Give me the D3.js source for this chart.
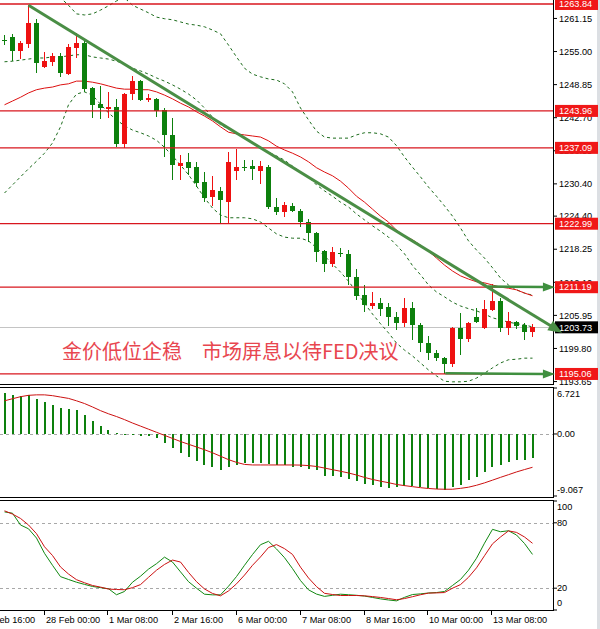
<!DOCTYPE html>
<html>
<head>
<meta charset="utf-8">
<script src="https://cdn.jsdelivr.net/npm/d3@7"></script>
<style>
  html, body { margin: 0; padding: 0; background: #fff; }
  svg { display: block; }
  .ax { font-family: "Liberation Sans", Arial, sans-serif; font-size: 9.2px; fill: #000; }
</style>
</head>
<body>
<svg id="chart" width="600" height="629"></svg>
<script>
// H4 candles, one per bar index 0..66
const openPrices = [1257.2,1257.7,1255.1,1256.4,1260.3,1252.1,1253.1,1254.2,1250.8,1255.7,
  1256.6,1248.2,1245.2,1244.3,1244.7,1237.8,1247.1,1249.5,1246.0,1246.2,
  1244.1,1239.5,1233.7,1234.5,1233.5,1230.7,1228.0,1229.1,1227.0,1232.8,
  1233.5,1233.7,1232.8,1233.5,1226.1,1225.2,1226.3,1225.4,1223.3,1221.3,
  1217.9,1215.5,1217.5,1217.4,1213.1,1209.7,1207.7,1208.3,1207.5,1205.6,
  1204.5,1207.3,1204.2,1200.8,1198.9,1198.0,1196.9,1203.6,1201.6,1205.6,
  1203.6,1206.9,1208.6,1203.6,1204.7,1204.2,1202.9];
const highPrices = [1258.1,1258.3,1257.0,1263.6,1261.1,1254.9,1254.7,1254.7,1256.4,1258.4,
  1257.1,1248.4,1248.6,1247.5,1246.2,1247.3,1250.5,1249.7,1247.1,1246.4,
  1244.5,1242.6,1235.8,1236.1,1234.5,1232.6,1231.9,1229.8,1236.3,1236.9,
  1234.8,1234.8,1234.7,1233.9,1227.8,1227.0,1226.8,1225.7,1223.9,1221.5,
  1218.1,1218.7,1218.5,1218.1,1214.6,1211.6,1210.3,1209.2,1208.3,1206.6,
  1209.2,1208.4,1204.5,1202.1,1199.5,1198.2,1203.8,1206.4,1204.7,1207.3,
  1208.8,1211.8,1209.2,1206.6,1204.9,1204.5,1204.4];
const lowPrices = [1256.2,1253.2,1253.6,1255.7,1251.0,1251.9,1252.3,1250.3,1250.6,1253.8,
  1247.5,1242.6,1242.5,1242.6,1237.2,1237.1,1246.0,1245.8,1245.6,1242.8,
  1235.4,1231.1,1231.1,1232.0,1229.8,1227.0,1226.3,1223.1,1222.9,1231.1,
  1232.8,1231.1,1230.4,1225.7,1224.6,1224.2,1225.2,1222.4,1219.6,1215.9,
  1214.0,1214.9,1216.8,1211.6,1208.8,1206.6,1207.1,1205.8,1204.0,1203.2,
  1203.8,1201.4,1199.1,1197.7,1197.5,1195.0,1196.4,1198.6,1201.0,1204.5,
  1203.4,1206.8,1202.9,1202.3,1203.4,1201.4,1201.9];
const closePrices = [1257.0,1255.1,1256.6,1260.3,1252.9,1253.2,1254.2,1251.0,1255.8,1256.6,
  1248.0,1245.1,1244.5,1244.7,1237.8,1247.1,1249.5,1246.0,1246.4,1243.9,
  1239.5,1233.9,1234.3,1233.4,1230.6,1227.8,1229.3,1227.4,1234.5,1233.5,
  1233.4,1233.2,1233.7,1226.1,1225.2,1226.5,1225.4,1223.3,1221.3,1217.7,
  1215.5,1217.7,1217.4,1213.1,1209.5,1207.9,1208.3,1207.1,1205.6,1204.5,
  1207.3,1204.2,1200.8,1198.9,1198.0,1196.9,1203.6,1201.6,1204.5,1204.7,
  1207.1,1208.6,1203.6,1204.9,1204.0,1202.9,1203.73];

// bollinger bands (dashed) and moving average (red)
const bbUpper = [1278.2,1275.7,1273.5,1271.1,1269.2,1267.4,1265.9,1265.0,1263.6,1262.0,
  1261.8,1262.0,1262.7,1263.5,1264.4,1265.0,1263.6,1262.9,1262.2,1261.4,
  1261.1,1260.9,1260.5,1260.1,1259.9,1259.6,1259.0,1258.3,1256.2,1254.0,
  1251.9,1250.8,1250.3,1249.9,1249.7,1249.0,1247.5,1244.5,1242.3,1240.2,
  1239.1,1238.9,1238.9,1238.9,1239.5,1239.9,1239.9,1239.7,1239.1,1237.5,
  1235.4,1233.5,1231.7,1229.8,1228.1,1226.3,1224.4,1222.2,1219.8,1218.1,
  1216.6,1214.8,1212.9,1211.6,1210.7,1210.1,1209.7];
const bbMiddle = [1253.1,1253.2,1253.4,1253.6,1253.8,1253.8,1254.0,1254.0,1254.2,1254.4,
  1254.4,1254.0,1253.8,1253.6,1253.2,1252.7,1251.9,1251.4,1250.8,1250.1,
  1249.5,1248.8,1248.0,1247.1,1246.0,1244.5,1242.8,1241.4,1240.6,1239.9,
  1238.9,1238.0,1237.1,1236.3,1235.6,1234.8,1233.7,1232.6,1231.7,1230.2,
  1229.1,1228.1,1227.0,1226.1,1224.8,1223.7,1222.6,1221.6,1220.5,1219.0,
  1217.4,1215.2,1213.5,1211.6,1210.3,1209.4,1208.4,1207.7,1207.2,1206.8,
  1206.2,1205.5,1205.1,1204.7,1204.4,1204.2,1203.8];
const bbLower = [1228.7,1230.2,1231.7,1233.2,1234.6,1236.1,1238.0,1241.0,1245.1,1247.1,
  1247.5,1246.9,1245.2,1243.6,1242.3,1241.2,1240.4,1239.9,1239.3,1238.5,
  1237.2,1235.6,1233.9,1232.1,1230.0,1227.8,1225.9,1224.6,1224.1,1224.1,
  1224.1,1223.9,1223.3,1222.2,1221.1,1220.5,1220.3,1220.3,1219.8,1218.5,
  1217.0,1215.5,1214.0,1212.3,1210.3,1208.2,1206.2,1204.4,1202.7,1200.8,
  1199.5,1198.4,1197.1,1195.8,1194.7,1193.7,1193.6,1193.6,1193.7,1194.3,
  1195.2,1196.2,1197.1,1197.7,1197.8,1198.0,1198.0];
const maLine = [1245.1,1245.8,1246.5,1247.3,1247.9,1248.2,1248.4,1248.8,1249.0,1249.5,
  1249.5,1249.3,1249.0,1248.6,1248.2,1248.0,1248.0,1247.9,1247.9,1247.5,
  1246.9,1246.2,1245.4,1244.7,1243.8,1243.0,1242.1,1241.0,1240.0,1239.7,
  1239.5,1239.3,1239.1,1238.4,1237.4,1236.7,1236.1,1235.4,1234.5,1233.4,
  1232.6,1231.9,1230.9,1229.6,1228.1,1227.0,1225.7,1224.4,1223.3,1221.8,
  1220.7,1220.0,1219.0,1217.9,1216.6,1215.3,1214.2,1213.3,1212.7,1212.2,
  1212.0,1211.6,1211.2,1211.0,1210.7,1210.1,1209.6];

// MACD panel
const macdHist = [6.04,5.70,5.56,5.70,5.12,4.63,4.24,3.76,3.61,3.51,
  2.78,1.95,1.17,0.58,0.10,-0.15,-0.2,-0.25,-0.35,-0.64,
  -1.37,-2.10,-2.73,-3.31,-3.90,-4.53,-4.87,-5.26,-4.87,-4.53,
  -4.29,-4.19,-4.19,-4.39,-4.53,-4.53,-4.78,-4.87,-5.16,-5.26,
  -6.09,-6.09,-6.24,-6.58,-6.87,-7.36,-7.46,-7.70,-7.94,-7.70,
  -7.60,-7.60,-7.80,-7.94,-8.09,-8.19,-7.80,-7.46,-6.73,-6.24,
  -5.51,-4.87,-4.53,-4.05,-3.80,-3.80,-3.55];
const macdSignal = [4.85,5.15,5.45,5.65,5.72,5.72,5.6,5.4,5.2,4.85,
  4.45,3.95,3.41,2.95,2.55,2.1,1.6,1.15,0.7,0.25,
  -0.2,-0.65,-1.1,-1.5,-1.9,-2.3,-2.75,-3.25,-3.75,-4.15,
  -4.45,-4.53,-4.53,-4.53,-4.53,-4.53,-4.53,-4.55,-4.62,-4.75,
  -4.98,-5.22,-5.45,-5.7,-6.0,-6.35,-6.65,-6.9,-7.12,-7.38,
  -7.55,-7.7,-7.85,-7.97,-8.05,-8.08,-8.08,-7.95,-7.78,-7.5,
  -7.15,-6.75,-6.34,-5.95,-5.55,-5.2,-4.87];

// stochastic panel
const stochK = [90,88.8,78,74.5,66,52,41,30.6,28,25.5,
  23.5,21.6,20.5,19.5,14,17,25.5,31,37.5,42.5,
  48.5,44,35,26,20,14.5,13.9,13.9,21.8,30.7,
  41,50.9,59.9,63,56,48,38,27,18.5,14.6,
  12.5,13.5,14.5,14,13.5,12.8,11.5,10.2,9.2,8.4,
  11.6,14.2,14.8,15.6,16,17,22.5,28,36.5,47.5,
  61.3,74,71.8,72.7,68.8,61,51];
const stochD = [91,88,84,78,70,58,50,39.5,33,27.8,
  25,22.5,21,19.2,18.8,18.6,20.5,23.3,30,36.5,
  41.8,45.8,44,34.5,26,19.3,15.2,13,17.5,24,
  32,41,48.7,57.3,60,56.3,51,39.3,29.4,21.5,
  15.3,14.2,13.3,13.3,13.3,13,12.3,11.5,10.5,9.4,
  10.5,12.2,14,15.5,15.7,16,20,23.3,30,38.7,
  49.8,60.7,67,72.6,71.2,67,61.2];

// axes
const priceTicks = ["1261.15","1255.00","1248.85","1242.70","1236.55","1230.40","1224.40","1218.25","1212.10","1205.95","1199.80","1193.65"];
const macdTicks = ["6.721","0.00","-9.067"];
const stochTicks = ["100","80","20","0"];
const timeLabels = ["24 Feb 16:00","28 Feb 00:00","1 Mar 08:00","2 Mar 16:00","6 Mar 00:00","7 Mar 08:00","8 Mar 16:00","10 Mar 00:00","13 Mar 08:00"];
const timeLabelBars = [-3, 5, 13, 21, 29, 37, 45, 53, 61];

// annotations
const levelPrices = [1263.84, 1243.96, 1237.09, 1222.99, 1211.19, 1195.06];
const lastPrice = 1203.73;
const trendLine = [[3, 1263.6], [69.7, 1202.7]];
const arrowLines = [
  [[60.4, 1211.3], [68.8, 1211.19]],
  [[55.1, 1195.2], [68.8, 1195.06]]
];
const headline = "金价低位企稳　市场屏息以待FED决议";

(function () {
  "use strict";

  const svg = d3.select("#chart");
  const plotRight = 553;
  const main = { top: 0, bottom: 384 };
  const macd = { top: 387, bottom: 497 };
  const stoch = { top: 500, bottom: 610 };

  const UP = "#ee1111";
  const DOWN = "#0d800d";
  const BAND = "#1c6b1c";

  const bars = d3.range(openPrices.length);
  const x = d3.scaleLinear().domain([0, 66]).range([4.5, 532.5]);
  const yMain = d3.scaleLinear().domain([1193.38, 1264.58]).range([383, 0]);
  const yMacd = d3.scaleLinear().domain([-9.067, 6.721]).range([496, 388]);
  const yStoch = d3.scaleLinear().domain([0, 100]).range([610, 501]);

  svg.append("rect").attr("width", 600).attr("height", 629).attr("fill", "#fff");
  svg.append("rect").attr("x", 597).attr("width", 3).attr("height", 629).attr("fill", "#dcdfe3");

  const defs = svg.append("defs");
  function panelGroup(id, p) {
    defs.append("clipPath").attr("id", id)
      .append("rect").attr("x", 0).attr("y", p.top).attr("width", plotRight).attr("height", p.bottom - p.top);
    return svg.append("g").attr("clip-path", `url(#${id})`);
  }

  // ---------- main panel ----------
  const gMain = panelGroup("clip-main", main);

  gMain.append("line")
    .attr("x1", 0).attr("x2", plotRight)
    .attr("y1", Math.round(yMain(lastPrice)) + 0.5).attr("y2", Math.round(yMain(lastPrice)) + 0.5)
    .attr("stroke", "#c4c4c4");

  const priceLine = d3.line().x((d, i) => x(i)).y((d) => yMain(d));

  [bbUpper, bbMiddle, bbLower].forEach((s) => {
    gMain.append("path").attr("d", priceLine(s))
      .attr("fill", "none").attr("stroke", BAND).attr("stroke-width", 1)
      .attr("stroke-dasharray", "3,3");
  });

  gMain.append("path").attr("d", priceLine(maLine))
    .attr("fill", "none").attr("stroke", "#dd1111").attr("stroke-width", 1);

  const candle = gMain.append("g").attr("shape-rendering", "crispEdges")
    .selectAll("g").data(bars).join("g");

  candle.append("line")
    .attr("x1", (i) => x(i)).attr("x2", (i) => x(i))
    .attr("y1", (i) => yMain(highPrices[i])).attr("y2", (i) => yMain(lowPrices[i]))
    .attr("stroke", (i) => (closePrices[i] > openPrices[i] ? UP : DOWN));

  candle.append("rect")
    .attr("x", (i) => x(i) - 2.5)
    .attr("width", 5)
    .attr("y", (i) => yMain(Math.max(openPrices[i], closePrices[i])))
    .attr("height", (i) => Math.max(1, Math.abs(yMain(openPrices[i]) - yMain(closePrices[i]))))
    .attr("fill", (i) => (closePrices[i] > openPrices[i] ? UP : DOWN));

  gMain.selectAll("line.level").data(levelPrices).join("line")
    .attr("class", "level")
    .attr("x1", 0).attr("x2", plotRight)
    .attr("y1", (p) => yMain(p)).attr("y2", (p) => yMain(p))
    .attr("stroke", "#d8161e").attr("stroke-width", 1.3);

  // ---------- MACD panel ----------
  const gMacd = panelGroup("clip-macd", macd);

  gMacd.append("line")
    .attr("x1", 0).attr("x2", plotRight)
    .attr("y1", Math.round(yMacd(0)) + 0.5).attr("y2", Math.round(yMacd(0)) + 0.5)
    .attr("stroke", "#a8a8a8").attr("stroke-dasharray", "3,3");

  gMacd.append("g").attr("shape-rendering", "crispEdges")
    .selectAll("rect").data(bars).join("rect")
    .attr("x", (i) => Math.round(x(i)) - 1.5)
    .attr("width", 2)
    .attr("y", (i) => Math.min(yMacd(0), yMacd(macdHist[i])))
    .attr("height", (i) => Math.max(1, Math.abs(yMacd(macdHist[i]) - yMacd(0))))
    .attr("fill", DOWN);

  gMacd.append("path")
    .attr("d", d3.line().x((d, i) => x(i)).y((d) => yMacd(d))(macdSignal))
    .attr("fill", "none").attr("stroke", "#cc1111").attr("stroke-width", 1);

  // ---------- stochastic panel ----------
  const gStoch = panelGroup("clip-stoch", stoch);

  [80, 20].forEach((v) => {
    gStoch.append("line")
      .attr("x1", 0).attr("x2", plotRight)
      .attr("y1", Math.round(yStoch(v)) + 0.5).attr("y2", Math.round(yStoch(v)) + 0.5)
      .attr("stroke", "#a8a8a8").attr("stroke-dasharray", "3,3");
  });

  const stochLine = d3.line().x((d, i) => x(i)).y((d) => yStoch(d));
  gStoch.append("path").attr("d", stochLine(stochK))
    .attr("fill", "none").attr("stroke", "#118811").attr("stroke-width", 1);
  gStoch.append("path").attr("d", stochLine(stochD))
    .attr("fill", "none").attr("stroke", "#cc1111").attr("stroke-width", 1);

  // ---------- panel borders ----------
  const frame = svg.append("g").attr("stroke", "#000").attr("shape-rendering", "crispEdges");
  [main, macd, stoch].forEach((p, k) => {
    if (k > 0) frame.append("line").attr("x1", 0).attr("x2", plotRight + 0.5).attr("y1", p.top + 0.5).attr("y2", p.top + 0.5);
    frame.append("line").attr("x1", 0).attr("x2", plotRight + 0.5).attr("y1", p.bottom + 0.5).attr("y2", p.bottom + 0.5);
    frame.append("line").attr("x1", plotRight + 0.5).attr("x2", plotRight + 0.5).attr("y1", p.top).attr("y2", p.bottom + 1);
  });

  // ---------- right axis labels ----------
  const axis = svg.append("g");
  priceTicks.forEach((t) => {
    const y = yMain(+t);
    axis.append("line").attr("x1", 554).attr("x2", 557).attr("y1", y).attr("y2", y).attr("stroke", "#000");
    axis.append("text").attr("class", "ax").attr("x", 559).attr("y", y).attr("dy", "0.35em").text(t);
  });

  macdTicks.forEach((t, k) => {
    const y = yMacd(+t) + (k === 0 ? 6 : k === macdTicks.length - 1 ? -6 : 0);
    axis.append("line").attr("x1", 554).attr("x2", 557).attr("y1", yMacd(+t)).attr("y2", yMacd(+t)).attr("stroke", "#000");
    axis.append("text").attr("class", "ax").attr("x", 557).attr("y", y).attr("dy", "0.35em").text(t);
  });

  stochTicks.forEach((t, k) => {
    const y = yStoch(+t) + (k === 0 ? 6 : k === stochTicks.length - 1 ? -7 : 0);
    axis.append("line").attr("x1", 554).attr("x2", 557).attr("y1", yStoch(+t)).attr("y2", yStoch(+t)).attr("stroke", "#000");
    axis.append("text").attr("class", "ax").attr("x", 557).attr("y", y).attr("dy", "0.35em").text(t);
  });

  // price boxes
  function priceBox(p, fill) {
    const y = yMain(p);
    axis.append("rect").attr("x", 555).attr("y", y - 6).attr("width", 43).attr("height", 12).attr("fill", fill);
    axis.append("text").attr("class", "ax").attr("x", 559).attr("y", y).attr("dy", "0.35em")
      .style("fill", "#fff").text(p.toFixed(2));
  }
  levelPrices.forEach((p) => priceBox(p, "#f01818"));
  priceBox(lastPrice, "#000");

  // ---------- time axis ----------
  timeLabelBars.forEach((b, k) => {
    const tx = Math.round(x(b)) - 0.5;
    axis.append("line").attr("x1", tx).attr("x2", tx).attr("y1", stoch.bottom + 1).attr("y2", stoch.bottom + 5).attr("stroke", "#000");
    axis.append("text").attr("class", "ax").attr("x", tx + 1.5).attr("y", 623).text(timeLabels[k]);
  });

  // ---------- annotations ----------
  const notes = svg.append("g");
  function arrow(pts, color, width, headLen, headHalf) {
    const x0 = x(pts[0][0]), y0 = yMain(pts[0][1]);
    const x1 = x(pts[1][0]), y1 = yMain(pts[1][1]);
    const len = Math.hypot(x1 - x0, y1 - y0);
    const ux = (x1 - x0) / len, uy = (y1 - y0) / len;
    const bx = x1 - ux * headLen, by = y1 - uy * headLen;
    notes.append("line")
      .attr("x1", x0).attr("y1", y0).attr("x2", bx + ux * 2).attr("y2", by + uy * 2)
      .attr("stroke", color).attr("stroke-width", width);
    notes.append("path")
      .attr("d", `M${x1},${y1}L${bx - uy * headHalf},${by + ux * headHalf}L${bx + uy * headHalf},${by - ux * headHalf}Z`)
      .attr("fill", color);
  }
  arrow(trendLine, "#4a8e45", 3, 14, 5.5);
  arrowLines.forEach((a) => arrow(a, "#3f8f3f", 2.5, 12, 4.5));

  notes.append("text")
    .attr("x", 62).attr("y", 359)
    .attr("font-family", '"Noto Sans CJK SC", sans-serif')
    .attr("font-size", 20)
    .attr("fill", "#e8464f")
    .text(headline);
})();
</script>
</body>
</html>
